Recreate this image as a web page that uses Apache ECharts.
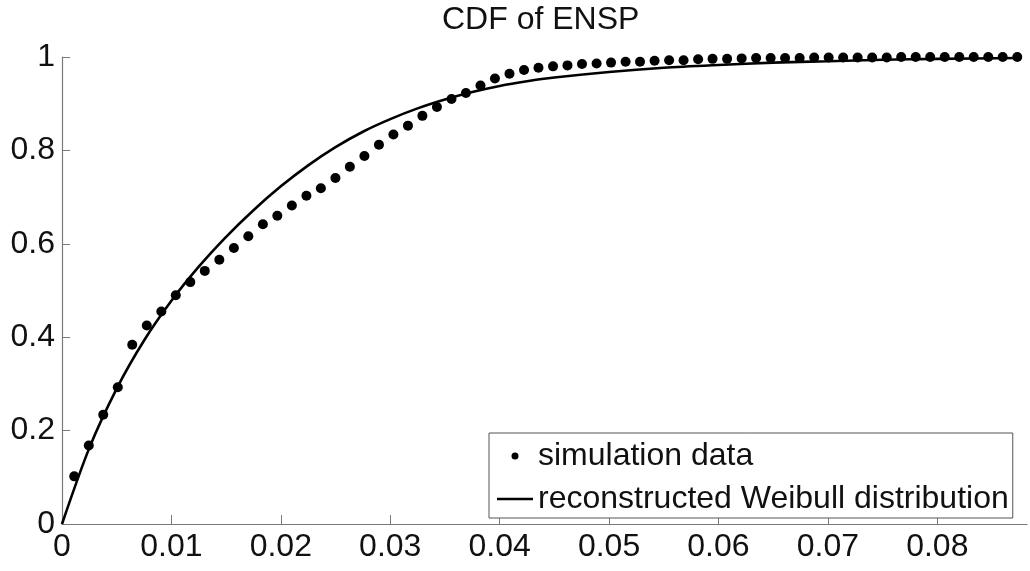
<!DOCTYPE html>
<html>
<head>
<meta charset="utf-8">
<title>CDF of ENSP</title>
<script src="https://cdn.jsdelivr.net/npm/echarts@6/dist/echarts.min.js"></script>
<style>
  html, body { margin: 0; padding: 0; background: #ffffff; }
  #chart { width: 1030px; height: 571px; }
</style>
</head>
<body>
<div id="chart"></div>
<script>
// Empirical CDF of ENSP from the simulation (x positions of the bins and their cumulative share)
const simX = [
  0.00112, 0.00245, 0.00377, 0.00510, 0.00642, 0.00775, 0.00908, 0.01040, 0.01173, 0.01305,
  0.01438, 0.01571, 0.01703, 0.01836, 0.01968, 0.02101, 0.02234, 0.02366, 0.02499, 0.02631,
  0.02764, 0.02897, 0.03029, 0.03162, 0.03294, 0.03427, 0.03560, 0.03692, 0.03825, 0.03957,
  0.04090, 0.04223, 0.04355, 0.04488, 0.04620, 0.04753, 0.04886, 0.05018, 0.05151, 0.05283,
  0.05416, 0.05549, 0.05681, 0.05814, 0.05946, 0.06079, 0.06212, 0.06344, 0.06477, 0.06609,
  0.06742, 0.06875, 0.07007, 0.07140, 0.07272, 0.07405, 0.07538, 0.07670, 0.07803, 0.07935,
  0.08068, 0.08201, 0.08333, 0.08466, 0.08598, 0.08731
];
const simY = [
  0.102, 0.168, 0.234, 0.293, 0.384, 0.425, 0.455, 0.490, 0.518, 0.542,
  0.566, 0.591, 0.616, 0.642, 0.660, 0.682, 0.703, 0.719, 0.741, 0.765,
  0.788, 0.812, 0.834, 0.853, 0.874, 0.893, 0.910, 0.923, 0.939, 0.954,
  0.964, 0.972, 0.977, 0.980, 0.982, 0.985, 0.986, 0.988, 0.990, 0.990,
  0.992, 0.993, 0.993, 0.995, 0.996, 0.996, 0.997, 0.998, 0.998, 0.998,
  0.998, 0.999, 0.999, 0.999, 0.999, 0.999, 0.999, 1, 1, 1,
  1, 1, 1, 1, 1, 1
];

// Reconstructed Weibull CDF, sampled along the curve
const fitX = [
  0, 0.0025, 0.005, 0.0075, 0.010, 0.0125, 0.015, 0.0175, 0.020, 0.0225,
  0.025, 0.0275, 0.030, 0.0325, 0.035, 0.0375, 0.040, 0.0425, 0.045, 0.050,
  0.055, 0.060, 0.065, 0.070, 0.075, 0.080, 0.0875
];
const fitY = [
  0, 0.163, 0.290, 0.393, 0.478, 0.551, 0.615, 0.672, 0.723, 0.768,
  0.807, 0.840, 0.867, 0.890, 0.909, 0.925, 0.938, 0.948, 0.956, 0.968,
  0.977, 0.983, 0.988, 0.991, 0.994, 0.996, 0.998
];

const seriesNames = ['simulation data', 'reconstructed Weibull distribution'];
const chartTitle = 'CDF of ENSP';

const FONT = '"Liberation Sans", Arial, Helvetica, sans-serif';
const AXIS_GRAY = '#7a7a7a';

const chart = echarts.init(document.getElementById('chart'), null, { renderer: 'canvas' });

chart.setOption({
  backgroundColor: '#ffffff',
  animation: false,
  title: {
    text: chartTitle,
    left: 442,
    top: 4,
    padding: 0,
    textStyle: { fontFamily: FONT, fontSize: 32, fontWeight: 'normal', color: '#111' }
  },
  grid: { left: 62, right: 3, top: 57, bottom: 47 },
  xAxis: {
    type: 'value',
    min: 0,
    max: 0.0882,
    interval: 0.01,
    splitLine: { show: false },
    axisLine: { lineStyle: { color: AXIS_GRAY, width: 1.2 } },
    axisTick: { inside: true, length: 9, lineStyle: { color: AXIS_GRAY } },
    axisLabel: {
      showMaxLabel: false,
      margin: 7,
      fontFamily: FONT,
      fontSize: 32,
      color: '#111'
    }
  },
  yAxis: {
    type: 'value',
    min: 0,
    max: 1,
    interval: 0.2,
    splitLine: { show: false },
    axisLine: { show: true, lineStyle: { color: AXIS_GRAY, width: 1.2 } },
    axisTick: { show: true, inside: true, length: 8, lineStyle: { color: AXIS_GRAY } },
    axisLabel: {
      margin: 7,
      fontFamily: FONT,
      fontSize: 32,
      color: '#111'
    }
  },
  legend: {
    orient: 'vertical',
    left: 489,
    top: 433,
    padding: [7, 4, 3, 8],
    itemGap: 11,
    itemWidth: 36,
    itemHeight: 7,
    borderColor: '#555',
    borderWidth: 1,
    backgroundColor: '#ffffff',
    data: [
      { name: seriesNames[0], icon: 'circle' },
      { name: seriesNames[1], icon: 'path://M0,0H36V2.6H0Z' }
    ],
    textStyle: { fontFamily: FONT, fontSize: 32, color: '#111' }
  },
  series: [
    {
      name: seriesNames[0],
      type: 'scatter',
      symbol: 'circle',
      symbolSize: 10,
      itemStyle: { color: '#000', opacity: 1 },
      data: simX.map((x, i) => [x, simY[i]]),
      z: 3
    },
    {
      name: seriesNames[1],
      type: 'line',
      showSymbol: false,
      symbol: 'none',
      smooth: 0.3,
      lineStyle: { color: '#000', width: 2.6 },
      itemStyle: { color: '#000' },
      data: fitX.map((x, i) => [x, fitY[i]]),
      z: 2
    }
  ]
});
</script>
</body>
</html>
